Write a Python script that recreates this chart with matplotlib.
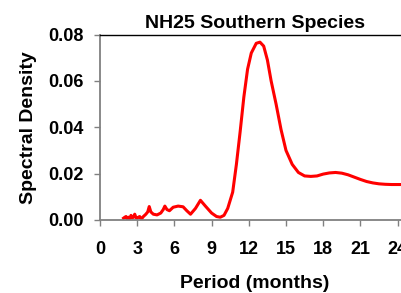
import matplotlib
matplotlib.use("Agg")
import matplotlib.pyplot as plt

plt.rcParams['font.family'] = ['Liberation Sans', 'DejaVu Sans']
plt.rcParams['font.weight'] = 'bold'

# period (months) and spectral density
period = [1.9, 2.0, 2.1, 2.2, 2.3, 2.4, 2.5, 2.6, 2.7, 2.8, 2.9, 3.0, 3.1, 3.2,
          3.35, 3.5, 3.6, 3.7, 3.85, 3.97, 4.1, 4.3, 4.6, 4.9, 5.1, 5.23, 5.4,
          5.6, 5.9, 6.3, 6.7, 7.0, 7.3, 7.7, 8.1, 8.5, 9.0, 9.4, 9.7, 10.0,
          10.3, 10.7, 11.0, 11.3, 11.6, 11.9, 12.2, 12.6, 12.9, 13.2, 13.5,
          13.8, 14.2, 14.6, 15.0, 15.5, 16.0, 16.5, 17.0, 17.5, 18.0, 18.5,
          19.0, 19.5, 20.0, 20.5, 21.0, 21.5, 22.0, 22.5, 23.0, 23.5, 24.0,
          24.5, 25.0]
density = [0.0008, 0.0012, 0.0015, 0.0005, 0.0012, 0.0006, 0.002, 0.0009,
           0.0012, 0.0025, 0.001, 0.0008, 0.0012, 0.0015, 0.0005, 0.0015,
           0.002, 0.0025, 0.0035, 0.0058, 0.0035, 0.0025, 0.0022, 0.003,
           0.0045, 0.006, 0.0045, 0.004, 0.0055, 0.006, 0.0057, 0.004, 0.0025,
           0.005, 0.0085, 0.006, 0.003, 0.0015, 0.0012, 0.002, 0.005, 0.012,
           0.024, 0.038, 0.053, 0.065, 0.072, 0.0762, 0.0767, 0.075, 0.069,
           0.06, 0.05, 0.039, 0.030, 0.024, 0.0205, 0.019, 0.0188, 0.019,
           0.0198, 0.0203, 0.0205, 0.0202, 0.0195, 0.0185, 0.0175, 0.0166,
           0.016, 0.0156, 0.0154, 0.0153, 0.0153, 0.0153, 0.0153]

xticks = [0, 3, 6, 9, 12, 15, 18, 21, 24]
yticks = [0.00, 0.02, 0.04, 0.06, 0.08]

fig = plt.figure(figsize=(4.02, 2.93), dpi=100)
ax = fig.add_axes([100 / 402, 73 / 293, 310 / 402, 185.5 / 293])

ax.plot(period, density, color="red", linewidth=2.2, solid_joinstyle="round")

ax.set_xlim(0, 25)
ax.set_ylim(0, 0.08)
ax.set_xticks(xticks)
ax.set_yticks(yticks)
ax.set_yticklabels([f"{v:.2f}" for v in yticks])

ax.tick_params(axis="both", labelsize=13, color="#808080", length=4, width=1)
ax.tick_params(axis="x", pad=11)
ax.tick_params(axis="y", pad=8)

for s in ("left", "bottom"):
    ax.spines[s].set_color("#808080")
    ax.spines[s].set_linewidth(1.3)
ax.spines["right"].set_visible(False)
ax.spines["top"].set_color("black")
ax.spines["top"].set_linewidth(1)

ax.set_title("NH25 Southern Species", fontsize=14, fontweight="bold", pad=5)
ax.set_xlabel("Period (months)", fontsize=14, fontweight="bold", labelpad=12)
ax.set_ylabel("Spectral Density", fontsize=14, fontweight="bold", labelpad=8)

fig.savefig("out.png", dpi=100)
plt.close(fig)
